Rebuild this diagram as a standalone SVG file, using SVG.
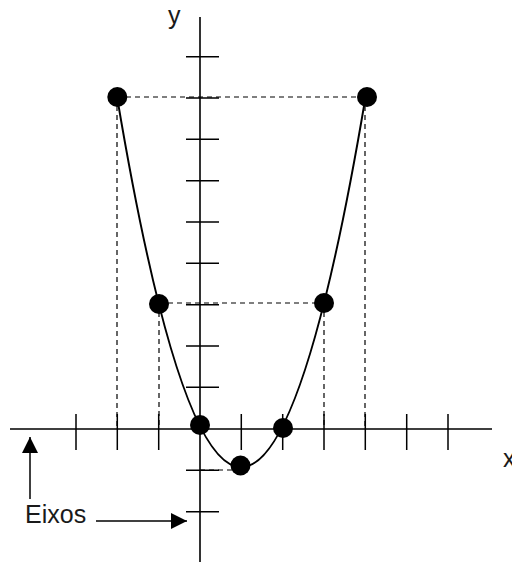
<svg xmlns="http://www.w3.org/2000/svg" width="512" height="562" viewBox="0 0 512 562">
<style>
.ax{stroke:#000;stroke-width:1.6;fill:none}
.tk{stroke:#000;stroke-width:1.5;fill:none}
.dash{stroke:#000;stroke-width:1.2;stroke-dasharray:5 4;fill:none}
.crv{stroke:#000;stroke-width:2;fill:none}
.dot{fill:#000}
.lbl{font-family:"Liberation Sans",Arial,sans-serif;fill:#1a1a1a}
</style>
<defs>
<marker id="ah" viewBox="0 0 10 10" refX="10" refY="5" markerWidth="17" markerHeight="16" markerUnits="userSpaceOnUse" orient="auto">
<path d="M0,0 L10,5 L0,10 Z" fill="#000"/>
</marker>
</defs>
<rect width="512" height="562" fill="#fff"/>
<g id="guides">
<path class="dash" d="M117,97 H367 M159,303 H324 M117,97 V429 M159,303 V429 M324,303 V429 M365,97 V429 M200,470 H234"/>
</g>
<g id="axes">
<path class="ax" d="M10,429 H492 M200,17 V562"/>
<path class="tk" d="M76,414 V450 M117.3,414 V450 M158.7,414 V450 M241.3,414 V450 M282.7,414 V450 M324,414 V450 M365.3,414 V450 M406.7,414 V450 M448,414 V450"/>
<path class="tk" d="M186,56.7 H219 M186,98 H219 M186,139.3 H219 M186,180.7 H219 M186,222 H219 M186,263.3 H219 M186,304.7 H219 M186,346 H219 M186,387.3 H219 M186,470.3 H219 M186,511.7 H219"/>
</g>
<g id="curve">
<path class="crv" d="M117.3,98.3 Q241.3,836 365.3,98.3"/>
</g>
<g id="points">
<circle class="dot" cx="117.3" cy="97" r="10"/>
<circle class="dot" cx="367" cy="97" r="10"/>
<circle class="dot" cx="159" cy="304" r="10"/>
<circle class="dot" cx="324" cy="303" r="10"/>
<circle class="dot" cx="200" cy="425" r="10"/>
<circle class="dot" cx="283" cy="428" r="10"/>
<circle class="dot" cx="240.5" cy="465.5" r="10"/>
</g>
<g id="labels">
<text class="lbl" x="168" y="24" font-size="25">y</text>
<text class="lbl" x="503" y="467" font-size="25">x</text>
<text class="lbl" x="25" y="523" font-size="25">Eixos</text>
</g>
<g id="connectors">
<path class="tk" d="M30,499 V437" marker-end="url(#ah)"/>
<path class="tk" d="M96,521 H187" marker-end="url(#ah)"/>
</g>
</svg>
